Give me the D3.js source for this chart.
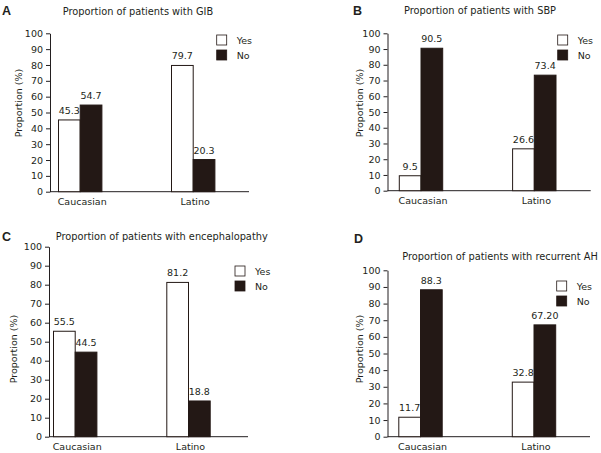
<!DOCTYPE html>
<html><head><meta charset="utf-8">
<script src="https://cdn.jsdelivr.net/npm/d3@7"></script>
<style>body{margin:0;background:#fff}svg{display:block}text{font-family:"DejaVu Sans",Verdana,sans-serif;fill:#231f20}</style>
</head><body>
<script>
const categories = ["Caucasian", "Latino"];
const seriesNames = ["Yes", "No"];
const yTicks = [0, 10, 20, 30, 40, 50, 60, 70, 80, 90, 100];

const gibYes = [45.3, 79.7];
const gibNo = [54.7, 20.3];
const gibYesLabels = ["45.3", "79.7"];
const gibNoLabels = ["54.7", "20.3"];

const sbpYes = [9.5, 26.6];
const sbpNo = [90.5, 73.4];
const sbpYesLabels = ["9.5", "26.6"];
const sbpNoLabels = ["90.5", "73.4"];

const encYes = [55.5, 81.2];
const encNo = [44.5, 18.8];
const encYesLabels = ["55.5", "81.2"];
const encNoLabels = ["44.5", "18.8"];

const ahYes = [11.7, 32.8];
const ahNo = [88.3, 67.2];
const ahYesLabels = ["11.7", "32.8"];
const ahNoLabels = ["88.3", "67.20"];

const titles = ["Proportion of patients with GIB", "Proportion of patients with SBP",
  "Proportion of patients with encephalopathy", "Proportion of patients with recurrent AH"];
const panelLetters = ["A", "B", "C", "D"];

const W = 601, H = 453;
const svg = d3.select("body").append("svg").attr("width", W).attr("height", H);
const dark = "#231815";

const panels = [
  {yes: gibYes, no: gibNo, yl: gibYesLabels, nl: gibNoLabels, title: titles[0], letter: panelLetters[0],
   ax: 50, top: 33.3, bot: 191.7, right: 249, c: [80.2, 193.2], lx: 216.7, ly: 35, titleX: 138, titleY: 15, letX: 2, letY: 15, ylabX: 19, ylabY: 103},
  {yes: sbpYes, no: sbpNo, yl: sbpYesLabels, nl: sbpNoLabels, title: titles[1], letter: panelLetters[1],
   ax: 387.5, top: 33.3, bot: 190.7, right: 590.7, c: [421, 534.3], lx: 557.7, ly: 35, titleX: 480, titleY: 13.5, letX: 353, letY: 15, ylabX: 360, ylabY: 103},
  {yes: encYes, no: encNo, yl: encYesLabels, nl: encNoLabels, title: titles[2], letter: panelLetters[2],
   ax: 49, top: 246.7, bot: 436.7, right: 248, c: [75.2, 188.5], lx: 235, ly: 266, titleX: 161.7, titleY: 239.5, letX: 2, letY: 241, ylabX: 13.5, ylabY: 349},
  {yes: ahYes, no: ahNo, yl: ahYesLabels, nl: ahNoLabels, title: titles[3], letter: panelLetters[3],
   ax: 387.5, top: 270.3, bot: 436.7, right: 590, c: [420.5, 534], lx: 556.7, ly: 281, titleX: 500, titleY: 259.5, letX: 354, letY: 243, ylabX: 360, ylabY: 349}
];

panels.forEach(p => {
  const g = svg.append("g");
  const y = d3.scaleLinear().domain([0, 100]).range([p.bot, p.top]);
  const x = d3.scalePoint().domain(categories).range(p.c);
  const bw = 21.7;
  const xs = d3.scaleBand().domain(seriesNames).range([-bw, bw]).padding(0);

  // y axis
  const yAxis = d3.axisLeft(y).tickValues(yTicks).tickSize(4).tickPadding(3).tickSizeOuter(0);
  const ya = g.append("g").attr("transform", `translate(${p.ax},0)`).call(yAxis);
  ya.select(".domain").attr("stroke", "#231f20");
  ya.selectAll(".tick line").attr("stroke", "#231f20");
  ya.selectAll(".tick text").style("font-size", "9.5px").attr("fill", "#231f20").style("font-family", '"DejaVu Sans",Verdana,sans-serif');

  // x axis line
  g.append("line").attr("x1", p.ax).attr("x2", p.right).attr("y1", p.bot).attr("y2", p.bot)
    .attr("stroke", "#231f20").attr("stroke-width", 1);

  // category labels
  g.selectAll(".cat").data(categories).enter().append("text")
    .attr("x", d => x(d) + 2).attr("y", p.bot + 13)
    .attr("text-anchor", "middle").style("font-size", "9.5px").text(d => d);

  // bars
  const rows = [];
  categories.forEach((c, i) => {
    rows.push({cat: c, s: "Yes", v: p.yes[i], lab: p.yl[i]});
    rows.push({cat: c, s: "No", v: p.no[i], lab: p.nl[i]});
  });
  g.selectAll(".bar").data(rows).enter().append("rect")
    .attr("x", d => x(d.cat) + xs(d.s)).attr("width", xs.bandwidth())
    .attr("y", d => y(d.v)).attr("height", d => y(0) - y(d.v))
    .attr("fill", d => d.s === "Yes" ? "#fff" : dark)
    .attr("stroke", dark).attr("stroke-width", 1);
  g.selectAll(".vl").data(rows).enter().append("text")
    .attr("x", d => x(d.cat) + xs(d.s) + xs.bandwidth() / 2).attr("y", d => y(d.v) - 6)
    .attr("text-anchor", "middle").style("font-size", "9.5px").text(d => d.lab);

  // legend
  seriesNames.forEach((s, i) => {
    g.append("rect").attr("x", p.lx).attr("y", p.ly + i * 15).attr("width", 10).attr("height", 10)
      .attr("fill", s === "Yes" ? "#fff" : dark).attr("stroke", dark).attr("stroke-width", 0.8);
    g.append("text").attr("x", p.lx + 20).attr("y", p.ly + i * 15 + 9).style("font-size", "9.5px").text(s);
  });

  // title
  g.append("text").attr("x", p.titleX).attr("y", p.titleY).attr("text-anchor", "middle")
    .style("font-size", "9.8px").text(p.title);
  // letter
  g.append("text").attr("x", p.letX).attr("y", p.letY).style("font-size", "12.5px")
    .style("font-weight", "bold").style("font-family", '"Liberation Sans",Arial,sans-serif').text(p.letter);
  // y label
  g.append("text").attr("transform", `translate(${p.ylabX},${p.ylabY}) rotate(-90)`)
    .attr("text-anchor", "middle").attr("dy", "0.35em").style("font-size", "9.5px").text("Proportion (%)");
});
</script>
</body></html>
